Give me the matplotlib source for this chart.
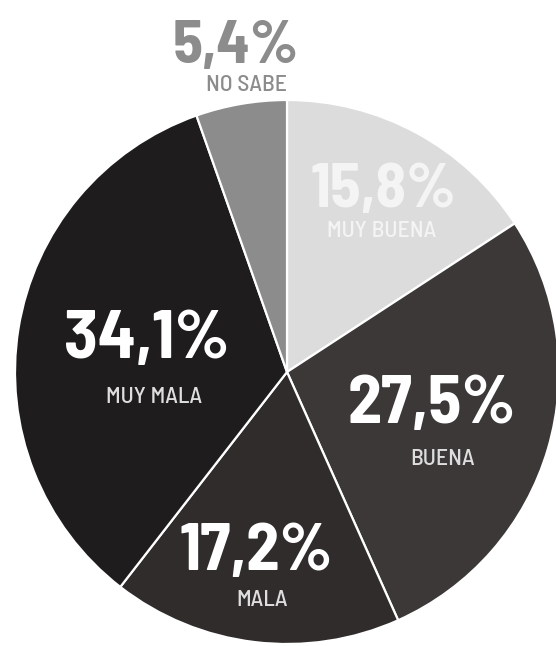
import matplotlib
matplotlib.use("Agg")
import matplotlib.pyplot as plt

categories = ["MUY BUENA", "BUENA", "MALA", "MUY MALA", "NO SABE"]
values = [15.8, 27.5, 17.2, 34.1, 5.4]
pct_labels = ["15,8%", "27,5%", "17,2%", "34,1%", "5,4%"]
colors = ["#dcdcdc", "#3c3838", "#302c2c", "#1e1c1c", "#8c8c8c"]
text_colors = ["#f4f4f4", "white", "white", "white", "#8c8c8c"]
sub_colors = ["#f4f4f4", "#dedede", "#dedede", "#dedede", "#8c8c8c"]

# label anchor positions in pixels (center x, baseline y of pct, baseline y of name)
label_px = [(384, 207, 237), (432, 423, 465), (256, 570, 606), (147, 358, 403), (236, 63, 91)]
name_dx = [-2, 11, 6, 7, 11]
pct_sizes = [45, 49, 48, 50, 44]

W, H = 556, 646
CX, CY, R = 287, 372, 272

fam = ["Barlow Semi Condensed", "DejaVu Sans"]

fig = plt.figure(figsize=(W / 100, H / 100), dpi=100)
ax = fig.add_axes([0, 0, 1, 1])
ax.pie(values, colors=colors, startangle=90, counterclock=False, radius=1,
       wedgeprops=dict(edgecolor="white", linewidth=1.6))
ax.set_xlim(-CX / R, (W - CX) / R)
ax.set_ylim(-(H - CY) / R, CY / R)
ax.set_aspect("equal")
ax.axis("off")

def to_data(px, py):
    return (px - CX) / R, (CY - py) / R

for i, cat in enumerate(categories):
    px, by1, by2 = label_px[i]
    x, y = to_data(px, by1)
    ax.text(x, y, pct_labels[i], ha="center", va="baseline", fontsize=pct_sizes[i],
            fontweight="bold", color=text_colors[i], family=fam)
    x2, y2 = to_data(px + name_dx[i], by2)
    ax.text(x2, y2, cat, ha="center", va="baseline", fontsize=17,
            fontweight="medium", color=sub_colors[i], family=fam)

fig.savefig("out.png", dpi=100)
